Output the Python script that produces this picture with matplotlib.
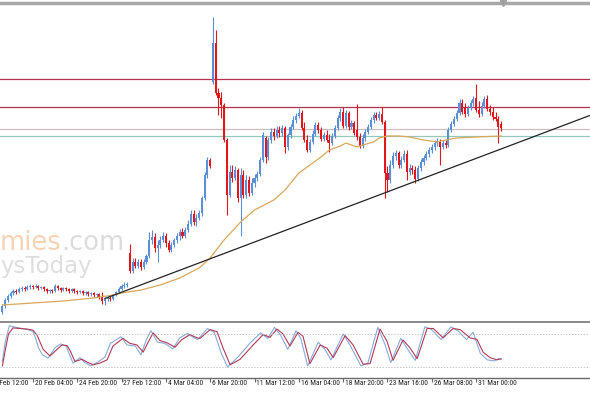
import numpy as np
import matplotlib
matplotlib.use("Agg")
import matplotlib.pyplot as plt
from matplotlib.transforms import blended_transform_factory

# ---------------- data (price in index points) ----------------
OPEN = [88, 94, 100, 104, 107, 109, 108, 111, 112, 111, 113, 114, 113, 114, 112, 113, 111, 109, 110, 109,
        114, 112, 110, 112, 111, 109, 111, 109, 108, 109, 107, 108, 106, 107, 105, 106, 103, 99, 101, 102,
        101, 105, 108, 111, 114, 115, 147, 129, 138, 134, 138, 133, 138, 144, 160, 163, 152, 155, 160, 164,
        157, 150, 155, 160, 164, 168, 164, 170, 176, 186, 178, 182, 187, 202, 225, 240, 318, 357, 307, 302,
        295, 260, 205, 228, 222, 230, 202, 225, 205, 220, 207, 217, 222, 226, 240, 262, 243, 260, 268, 264,
        270, 267, 272, 253, 265, 273, 280, 284, 287, 272, 260, 250, 258, 266, 275, 270, 261, 265, 260, 257,
        264, 272, 282, 288, 274, 287, 273, 277, 270, 263, 254, 262, 268, 273, 280, 285, 282, 286, 278, 227,
        220, 235, 244, 247, 235, 240, 246, 228, 232, 230, 221, 232, 238, 242, 246, 250, 253, 257, 259, 253,
        257, 255, 270, 276, 281, 287, 297, 292, 286, 292, 297, 302, 290, 286, 294, 301, 291, 288, 283, 281,
        276]
CLOSE = [94, 100, 104, 107, 109, 108, 111, 112, 111, 113, 114, 113, 114, 112, 113, 111, 109, 110, 109, 114,
         112, 110, 112, 111, 109, 111, 109, 108, 109, 107, 108, 106, 107, 105, 106, 103, 99, 101, 102, 101,
         105, 108, 111, 114, 115, 116, 129, 138, 134, 138, 133, 138, 144, 160, 163, 152, 155, 160, 164, 157,
         150, 155, 160, 164, 168, 164, 170, 176, 186, 178, 182, 187, 202, 225, 240, 234, 357, 307, 302, 295,
         260, 205, 228, 222, 230, 202, 225, 205, 220, 207, 217, 222, 226, 240, 265, 243, 260, 268, 264, 270,
         267, 272, 253, 265, 273, 280, 284, 287, 272, 260, 250, 258, 266, 275, 270, 261, 265, 260, 257, 264,
         272, 282, 288, 274, 287, 273, 277, 267, 263, 254, 262, 268, 273, 280, 285, 282, 286, 278, 227, 220,
         235, 244, 247, 235, 240, 246, 228, 232, 230, 221, 232, 238, 242, 246, 250, 253, 257, 259, 253, 257,
         255, 270, 276, 281, 287, 297, 288, 286, 292, 297, 301, 290, 286, 294, 301, 291, 288, 283, 281, 273,
         272]
HIGH = [96, 102, 106, 109, 111, 111, 113, 114, 114, 115, 116, 115, 116, 115, 114, 114, 112, 111, 111, 116,
        115, 113, 113, 113, 112, 112, 112, 110, 110, 110, 109, 109, 108, 108, 107, 107, 108, 103, 104, 104,
        106, 109, 113, 116, 118, 118, 156, 142, 142, 141, 141, 141, 146, 168, 170, 167, 160, 164, 168, 167,
        160, 158, 162, 167, 171, 172, 173, 180, 190, 190, 186, 190, 204, 228, 243, 242, 383, 370, 312, 308,
        297, 262, 235, 235, 234, 232, 232, 230, 225, 224, 222, 226, 229, 243, 268, 264, 263, 272, 272, 274,
        274, 275, 274, 267, 276, 284, 287, 292, 290, 278, 265, 261, 270, 278, 278, 273, 268, 270, 266, 267,
        275, 285, 292, 293, 290, 289, 280, 279, 296, 267, 266, 271, 276, 283, 288, 288, 289, 293, 280, 234,
        240, 248, 250, 249, 244, 250, 250, 236, 235, 234, 235, 241, 245, 249, 253, 256, 260, 262, 261, 260,
        260, 273, 279, 284, 290, 301, 301, 297, 295, 300, 304, 316, 299, 298, 304, 305, 295, 293, 288, 284,
        279]
LOW = [86, 92, 98, 102, 105, 106, 107, 109, 109, 110, 111, 111, 112, 110, 111, 109, 107, 107, 107, 108,
       110, 108, 109, 109, 107, 108, 107, 106, 107, 105, 105, 104, 104, 103, 103, 101, 96, 95, 99, 99,
       100, 104, 107, 110, 112, 113, 127, 127, 132, 132, 130, 131, 136, 142, 156, 148, 138, 152, 158, 153,
       148, 148, 153, 157, 160, 162, 162, 168, 174, 175, 174, 180, 184, 200, 222, 232, 316, 305, 285, 282,
       258, 185, 203, 218, 220, 198, 164, 202, 202, 204, 205, 213, 219, 224, 238, 237, 240, 257, 260, 262,
       263, 264, 247, 250, 262, 271, 277, 282, 270, 258, 248, 248, 256, 264, 267, 259, 259, 258, 248, 255,
       262, 270, 279, 272, 272, 270, 271, 265, 260, 252, 252, 259, 266, 271, 277, 280, 280, 276, 202, 208,
       217, 232, 240, 232, 232, 238, 220, 225, 226, 217, 219, 229, 235, 240, 243, 247, 250, 254, 235, 251,
       252, 253, 268, 274, 279, 285, 286, 283, 284, 290, 294, 288, 283, 284, 292, 289, 285, 280, 279, 257,
       269]

# moving average (bar index, value)
MA_BAR = [0, 11, 22, 33, 40, 43, 50, 57, 64, 71, 75, 80, 86, 91, 98, 102, 107, 111, 115, 118, 122, 124,
          126, 128, 130, 134, 136, 139, 143, 147, 152, 157, 160, 164, 171, 180]
MA_VAL = [95, 97, 99, 102, 105, 107, 110, 115, 122, 132, 142, 160, 178, 190, 200, 210, 227, 235, 243, 250,
          254, 257, 255, 253, 255, 258, 262, 264, 264, 263, 260, 258, 260, 262, 263, 264]

# horizontal levels and trend line anchors
RESIST_LEVELS = [320.7, 293.3]
PIVOT_LEVEL = 270.7
SUPPORT_LEVEL = 264.0
TREND_BAR = [37, 212]
TREND_VAL = [101.5, 284.5]

# stochastic oscillator
STOCH_K_BAR = [0, 1, 2.5, 4, 6, 9, 11, 12, 13, 14.5, 16.5, 19, 21, 23, 24, 25.5, 28, 29.5, 31.8, 34.5,
               37, 39, 42.8, 45, 48, 50, 52, 53.6, 56, 58.6, 61.5, 64, 66.8, 69.5, 70.5, 74, 76.5, 79,
               81.3, 85, 89.5, 93.2, 95.8, 98.2, 100.5, 103, 106, 107.7, 110.2, 114, 116.4, 118.6, 123,
               125.8, 129.4, 131.9, 135.5, 138, 140.2, 143.8, 146.3, 149, 152.5, 154.7, 158.3, 161.9,
               164.4, 167.5, 169.9, 172.5, 175, 177.5, 179, 180]
STOCH_K = [30, 65, 95, 93, 91, 88, 85, 72, 55, 42, 36, 55, 62, 58, 45, 27, 37, 29, 22, 29,
           38, 63, 75, 60, 58, 42, 70, 86, 65, 63, 53, 73, 81, 72, 70, 90, 83, 45,
           20, 38, 64, 82, 72, 92, 77, 52, 86, 72, 22, 65, 52, 33, 80,
           57, 22, 27, 92, 62, 28, 72, 52, 32, 93, 89, 70, 93,
           86, 70, 83, 45, 33, 31, 35, 34]
STOCH_D_BAR = [0, 1, 2.2, 3.8, 6.4, 8.9, 11, 12.5, 13.6, 14.7, 17.2, 19.7, 21.5, 23.3, 24.4, 26.2, 28.7,
               30.5, 32.7, 35.2, 37.8, 39.9, 43.5, 46, 48.6, 50.8, 52.6, 54.4, 56.9, 59.4, 62.3, 64.8,
               67.7, 70.2, 71.3, 75, 77.5, 79.6, 82.2, 85.8, 90.5, 94.1, 96.6, 99.1, 101.3, 103.8, 106.7,
               108.5, 111, 114.7, 117.2, 119.4, 123.7, 126.6, 130.2, 132.7, 136.3, 138.8, 141, 144.6,
               147.1, 149.7, 153.3, 155.5, 159.1, 162.7, 165.2, 168.8, 171.3, 173.5, 176, 178.5, 180]
STOCH_D = [22, 50, 80, 91, 90, 89, 87, 78, 65, 52, 40, 52, 60, 59, 50, 30, 34,
           29, 24, 27, 33, 58, 72, 63, 60, 47, 65, 82, 68, 64, 56, 70,
           79, 73, 72, 88, 84, 55, 24, 34, 60, 79, 74, 89, 80, 58, 83,
           76, 26, 60, 54, 37, 77, 60, 25, 26, 89, 67, 32, 69,
           55, 35, 90, 90, 73, 90, 88, 73, 70, 47, 37, 33, 35]
STOCH_LEVELS = [80, 20]

TICK_BARS = [-5, 11, 27, 43, 59, 75, 91, 107, 123, 139, 155, 171]
TICK_LABELS = ["17 Feb 12:00", "20 Feb 04:00", "24 Feb 20:00", "27 Feb 12:00", "4 Mar 04:00",
               "6 Mar 20:00", "11 Mar 12:00", "16 Mar 04:00", "18 Mar 20:00", "23 Mar 16:00",
               "26 Mar 08:00", "31 Mar 00:00"]

# ---------------- drawing ----------------
UP = "#5b8fd8"
DOWN = "#e3161c"
LABEL_FONT = ["Roboto Condensed", "Open Sans Condensed", "Liberation Sans Narrow", "Liberation Sans"]

fig = plt.figure(figsize=(5.9, 3.93), dpi=100)
fig.patch.set_facecolor("white")
ax = fig.add_axes([0, 0.1794, 1, 0.8142])
ax2 = fig.add_axes([0, 0.0389, 1, 0.1405], sharex=ax)

o = np.array(OPEN, float)
c = np.array(CLOSE, float)
h = np.array(HIGH, float)
l = np.array(LOW, float)
idx = np.arange(len(o))
cols = np.where(c >= o, UP, DOWN)

ax.vlines(idx, l, h, colors=cols, lw=0.8, zorder=3)
body = np.maximum(np.abs(c - o), 0.8)
ax.bar(idx, body, bottom=np.minimum(o, c), width=0.75, color=cols, lw=0, zorder=4)

ax.plot(MA_BAR, MA_VAL, color="#d9a85a", lw=0.9, zorder=5)
for lv in RESIST_LEVELS:
    ax.axhline(lv, color="#b3324e", lw=0.9, zorder=2)
ax.axhline(PIVOT_LEVEL, color="#cdbfbf", lw=0.9, zorder=2)
ax.axhline(SUPPORT_LEVEL, color="#92c9bd", lw=0.9, zorder=2)
ax.plot(TREND_BAR, TREND_VAL, color="#222222", lw=0.9, zorder=6)

ax.set_xlim(-0.87, 212.1)
ax.set_ylim(77.5, 397.5)
ax.set_yticks([])
ax.tick_params(axis="x", which="both", bottom=False, labelbottom=False)
for s in ["left", "right"]:
    ax.spines[s].set_visible(False)
ax.spines["top"].set_color("#a8a8a8")
ax.spines["top"].set_linewidth(2.5)
ax.spines["bottom"].set_color("#8a8a8a")
ax.spines["bottom"].set_linewidth(1.4)

# shift marker at the top
ax.plot([180.6], [1.0], marker="v", ms=4, color="#a0a0a0",
        transform=blended_transform_factory(ax.transData, ax.transAxes), clip_on=False, zorder=7)

# watermark
fig.canvas.draw()
t1 = ax.text(0.0, 0.365, "mies", transform=fig.transFigure, fontsize=18.5, color="#f7d3b6",
             family="DejaVu Sans", zorder=1, clip_on=False)
fig.canvas.draw()
bb = t1.get_window_extent()
ax.text(bb.x1 / fig.bbox.width, 0.365, ".com", transform=fig.transFigure, fontsize=18.5,
        color="#dcdcdc", family="DejaVu Sans", zorder=1, clip_on=False)
ax.text(0.0, 0.306, "ysToday", transform=fig.transFigure, fontsize=16.5, color="#dedede",
        family="DejaVu Sans", zorder=1, clip_on=False)

# stochastic panel
ax2.plot(STOCH_K_BAR, STOCH_K, color="#86abdc", lw=0.8)
ax2.plot(STOCH_D_BAR, STOCH_D, color="#b03a55", lw=0.8)
for lv in STOCH_LEVELS:
    ax2.axhline(lv, color="#b8b8b8", lw=0.6, ls=(0, (1.5, 2)))
ax2.set_ylim(0.5, 100.9)
ax2.set_yticks([])
for s in ["left", "right"]:
    ax2.spines[s].set_visible(False)
ax2.spines["top"].set_color("#8a8a8a")
ax2.spines["top"].set_linewidth(1.4)
ax2.spines["bottom"].set_color("#6a6a6a")
ax2.spines["bottom"].set_linewidth(1.0)
ax2.set_xticks(TICK_BARS[1:])
ax2.tick_params(axis="x", direction="out", length=3, width=0.8, color="#6a6a6a", labelbottom=False)
ax2.set_xlim(-0.87, 212.1)

trans = blended_transform_factory(ax2.transData, ax2.transAxes)
for b, lab in zip(TICK_BARS, TICK_LABELS):
    ax2.text(b + 0.7, -0.1, lab, transform=trans, ha="left", va="center", fontsize=5.4,
             family=LABEL_FONT, color="#222222", clip_on=False)

fig.savefig("out.png", dpi=100, facecolor="white")
